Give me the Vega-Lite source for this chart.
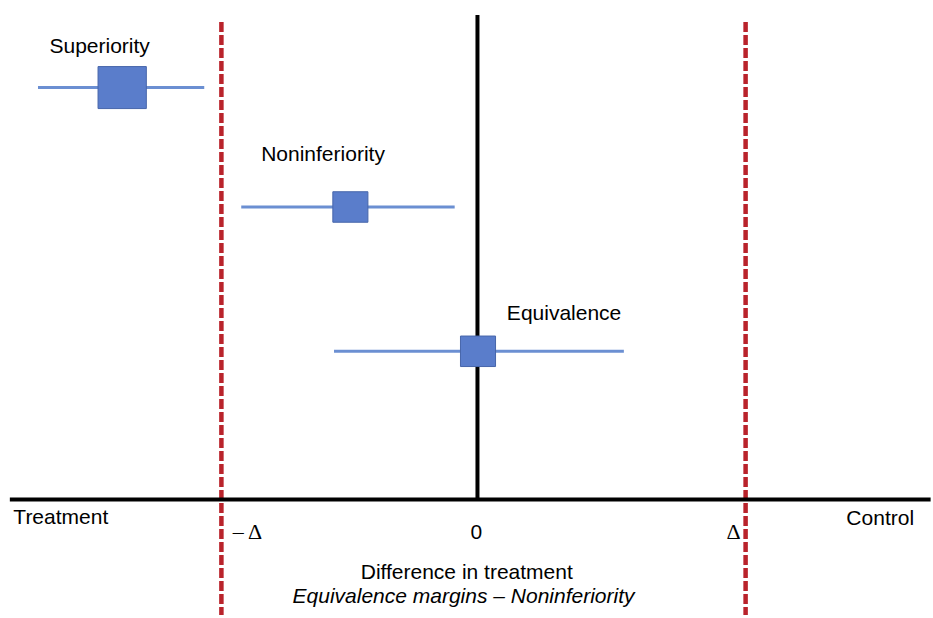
{
  "$schema": "https://vega.github.io/schema/vega-lite/v6.json",
  "width": 933,
  "height": 618,
  "padding": 0,
  "autosize": {"type": "fit", "contains": "padding"},
  "background": "white",
  "config": {"view": {"stroke": null}},
  "datasets": {
    "studies": [
      {"design": "Superiority", "lower": -1.639, "est": -1.325, "upper": -1.019, "weight": 2, "row": 412, "label_x": -1.409, "label_y": 447},
      {"design": "Noninferiority", "lower": -0.881, "est": -0.474, "upper": -0.085, "weight": 1, "row": 292, "label_x": -0.576, "label_y": 338},
      {"design": "Equivalence", "lower": -0.535, "est": 0.002, "upper": 0.546, "weight": 1, "row": 147, "label_x": 0.323, "label_y": 178}
    ],
    "margins": [
      {"name": "-Delta", "x": -0.955, "top": 478, "bottom": -118},
      {"name": "Delta", "x": 1.0, "top": 478, "bottom": -118}
    ],
    "axes": [
      {"name": "difference", "x": -1.744, "x2": 1.69, "y": -2, "y2": -2},
      {"name": "zero", "x": 0, "x2": 0, "y": 485, "y2": -2}
    ],
    "sans_labels": [
      {"text": "Treatment", "x": -1.554, "y": -27},
      {"text": "0", "x": -0.004, "y": -42},
      {"text": "Control", "x": 1.502, "y": -28},
      {"text": "Difference in treatment", "x": -0.04, "y": -82}
    ],
    "serif_labels": [
      {"text": "– Δ", "x": -0.858, "y": -42},
      {"text": "Δ", "x": 0.955, "y": -42}
    ],
    "italic_labels": [
      {"text": "Equivalence margins – Noninferiority", "x": -0.052, "y": -106}
    ]
  },
  "layer": [
    {
      "data": {"name": "margins"},
      "mark": {"type": "rule", "color": "#b9232b", "strokeWidth": 4.5, "strokeDash": [10, 3]},
      "encoding": {
        "x": {"field": "x", "type": "quantitative", "scale": {"domain": [-1.7807, 1.6877], "nice": false, "zero": false}, "axis": null},
        "y": {"field": "top", "type": "quantitative", "scale": {"domain": [-118, 500], "nice": false, "zero": false}, "axis": null},
        "y2": {"field": "bottom"}
      }
    },
    {
      "data": {"name": "axes"},
      "mark": {"type": "rule", "color": "black", "strokeWidth": 4},
      "encoding": {
        "x": {"field": "x", "type": "quantitative"},
        "x2": {"field": "x2"},
        "y": {"field": "y", "type": "quantitative"},
        "y2": {"field": "y2"}
      }
    },
    {
      "data": {"name": "studies"},
      "mark": {"type": "rule", "color": "#6b8fd2", "strokeWidth": 3},
      "encoding": {
        "x": {"field": "lower", "type": "quantitative"},
        "x2": {"field": "upper"},
        "y": {"field": "row", "type": "quantitative"}
      }
    },
    {
      "data": {"name": "studies"},
      "mark": {"type": "point", "shape": "M-1.15,-1H1.15V1H-1.15Z", "filled": true, "fill": "#5a7dcb", "stroke": "#4766aa", "strokeWidth": 1, "opacity": 1},
      "encoding": {
        "x": {"field": "est", "type": "quantitative"},
        "y": {"field": "row", "type": "quantitative"},
        "size": {"field": "weight", "type": "quantitative", "scale": {"domain": [1, 2], "range": [930, 1764], "zero": false}, "legend": null}
      }
    },
    {
      "data": {"name": "studies"},
      "mark": {"type": "text", "font": "Liberation Sans", "fontSize": 21, "color": "black", "align": "center", "baseline": "alphabetic"},
      "encoding": {
        "x": {"field": "label_x", "type": "quantitative"},
        "y": {"field": "label_y", "type": "quantitative"},
        "text": {"field": "design"}
      }
    },
    {
      "data": {"name": "sans_labels"},
      "mark": {"type": "text", "font": "Liberation Sans", "fontSize": 21, "color": "black", "align": "center", "baseline": "alphabetic"},
      "encoding": {
        "x": {"field": "x", "type": "quantitative"},
        "y": {"field": "y", "type": "quantitative"},
        "text": {"field": "text"}
      }
    },
    {
      "data": {"name": "serif_labels"},
      "mark": {"type": "text", "font": "Liberation Serif", "fontSize": 22, "color": "black", "align": "center", "baseline": "alphabetic"},
      "encoding": {
        "x": {"field": "x", "type": "quantitative"},
        "y": {"field": "y", "type": "quantitative"},
        "text": {"field": "text"}
      }
    },
    {
      "data": {"name": "italic_labels"},
      "mark": {"type": "text", "font": "Liberation Sans", "fontStyle": "italic", "fontSize": 21, "color": "black", "align": "center", "baseline": "alphabetic"},
      "encoding": {
        "x": {"field": "x", "type": "quantitative"},
        "y": {"field": "y", "type": "quantitative"},
        "text": {"field": "text"}
      }
    }
  ]
}
